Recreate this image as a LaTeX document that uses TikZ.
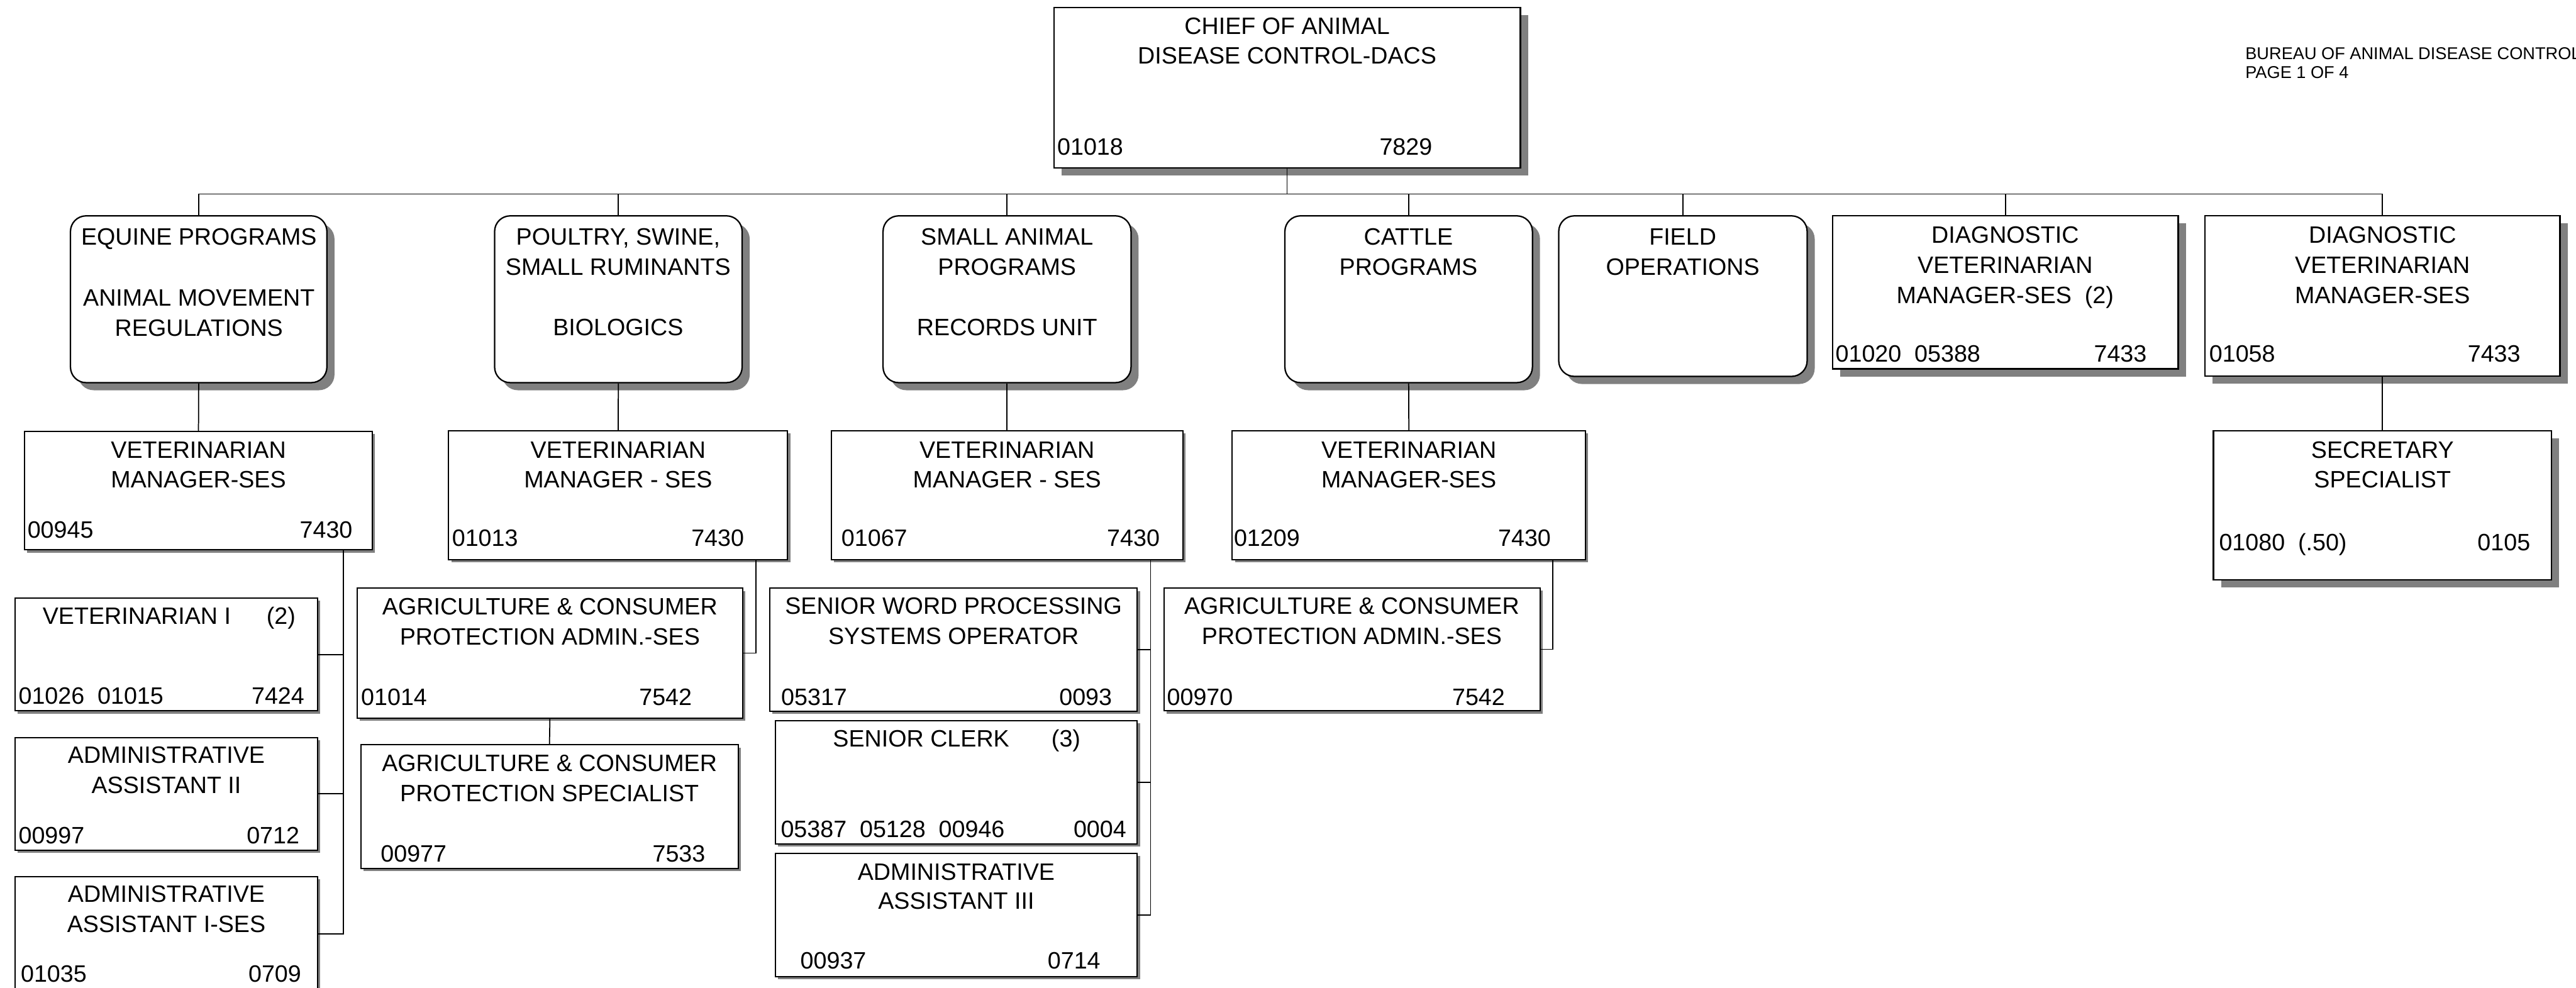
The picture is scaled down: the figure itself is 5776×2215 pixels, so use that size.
\documentclass[tikz,border=0pt]{standalone}
\usepackage{fontspec}
\setmainfont{Liberation Sans}
\usetikzlibrary{fit,shadows}
\begin{document}
\begin{tikzpicture}[x=0.01cm,y=-0.01cm,
  bigshadow/.style={drop shadow={shadow xshift=0.17cm,shadow yshift=-0.17cm,fill=black!50,opacity=1}},
  smallshadow/.style={drop shadow={shadow xshift=0.06cm,shadow yshift=-0.06cm,fill=black!50,opacity=1}},
  unitbox/.style={draw=black,line width=0.9pt,fill=white,rounded corners=0.35cm,inner sep=0pt,bigshadow},
  headbox/.style={draw=black,line width=0.9pt,fill=white,inner sep=0pt,bigshadow},
  posbox/.style={draw=black,line width=0.8pt,fill=white,inner sep=0pt,smallshadow},
  lbl/.style={font=\fontsize{15.1}{19}\selectfont,inner sep=0pt,anchor=base},
  lblw/.style={lbl,anchor=base west},
  lble/.style={lbl,anchor=base east},
  link/.style={draw=black,line width=0.7pt},
  note/.style={font=\fontsize{10.9}{12}\selectfont,inner sep=0pt,anchor=base west}
]
\fill[white] (0,0) rectangle (5776,2215);
\useasboundingbox (0,0) rectangle (5776,2215);

% ---------- title block ----------
\node[note] (bureau) at (5034,133) {BUREAU OF ANIMAL DISEASE CONTROL};
\node[note] (page) at (5034,175) {PAGE 1 OF 4};

% ---------- chief ----------
\node[headbox, fit={(2363,17) (3409,376)}] (chief) {};
\node[lbl]  (chief-a) at (2886,77)  {CHIEF OF ANIMAL};
\node[lbl]  (chief-b) at (2886,143) {DISEASE CONTROL-DACS};
\node[lblw] (chief-n) at (2370,348) {01018};
\node[lble] (chief-c) at (3212,348) {7829};

% ---------- programs row ----------
\node[unitbox, fit={(158,484) (733,858)}] (equine) {};
\node[lbl] (equine-a) at (446,549) {EQUINE PROGRAMS};
\node[lbl] (equine-b) at (446,686) {ANIMAL MOVEMENT};
\node[lbl] (equine-c) at (446,754) {REGULATIONS};

\node[unitbox, fit={(1109,484) (1664,858)}] (poultry) {};
\node[lbl] (poultry-a) at (1386,549) {POULTRY, SWINE,};
\node[lbl] (poultry-b) at (1386,617) {SMALL RUMINANTS};
\node[lbl] (poultry-c) at (1386,752) {BIOLOGICS};

\node[unitbox, fit={(1980,484) (2536,858)}] (smallan) {};
\node[lbl] (smallan-a) at (2258,549) {SMALL ANIMAL};
\node[lbl] (smallan-b) at (2258,617) {PROGRAMS};
\node[lbl] (smallan-c) at (2258,752) {RECORDS UNIT};

\node[unitbox, fit={(2881,484) (3436,858)}] (cattle) {};
\node[lbl] (cattle-a) at (3158,549) {CATTLE};
\node[lbl] (cattle-b) at (3158,617) {PROGRAMS};

\node[unitbox, fit={(3495,484) (4052,844)}] (field) {};
\node[lbl] (field-a) at (3773,549) {FIELD};
\node[lbl] (field-b) at (3773,617) {OPERATIONS};

\node[headbox, fit={(4109,484) (4884,827)}] (diaga) {};
\node[lbl]  (diaga-a) at (4496,545) {DIAGNOSTIC};
\node[lbl]  (diaga-b) at (4496,613) {VETERINARIAN};
\node[lbl]  (diaga-c) at (4496,680) {MANAGER-SES\ \ (2)};
\node[lblw] (diaga-n) at (4115,812) {01020\ \ 05388};
\node[lble] (diaga-k) at (4814,812) {7433};

\node[headbox, fit={(4944,484) (5740,843)}] (diagb) {};
\node[lbl]  (diagb-a) at (5342,545) {DIAGNOSTIC};
\node[lbl]  (diagb-b) at (5342,613) {VETERINARIAN};
\node[lbl]  (diagb-c) at (5342,680) {MANAGER-SES};
\node[lblw] (diagb-n) at (4953,812) {01058};
\node[lble] (diagb-k) at (5652,812) {7433};

% ---------- managers row ----------
\node[posbox, fit={(55,967) (835,1233)}] (vm1) {};
\node[lbl]  (vm1-a) at (445,1027) {VETERINARIAN};
\node[lbl]  (vm1-b) at (445,1094) {MANAGER-SES};
\node[lblw] (vm1-n) at (61,1207)  {00945};
\node[lble] (vm1-k) at (791,1207) {7430};

\node[posbox, fit={(1006,966) (1766,1255)}] (vm2) {};
\node[lbl]  (vm2-a) at (1386,1027) {VETERINARIAN};
\node[lbl]  (vm2-b) at (1386,1094) {MANAGER - SES};
\node[lblw] (vm2-n) at (1013,1225) {01013};
\node[lble] (vm2-k) at (1669,1225) {7430};

\node[posbox, fit={(1864,966) (2652,1255)}] (vm3) {};
\node[lbl]  (vm3-a) at (2258,1027) {VETERINARIAN};
\node[lbl]  (vm3-b) at (2258,1094) {MANAGER - SES};
\node[lblw] (vm3-n) at (1886,1225) {01067};
\node[lble] (vm3-k) at (2601,1225) {7430};

\node[posbox, fit={(2763,966) (3555,1255)}] (vm4) {};
\node[lbl]  (vm4-a) at (3159,1027) {VETERINARIAN};
\node[lbl]  (vm4-b) at (3159,1094) {MANAGER-SES};
\node[lblw] (vm4-n) at (2766,1225) {01209};
\node[lble] (vm4-k) at (3478,1225) {7430};

\node[headbox, fit={(4963,966) (5721,1300)}] (secr) {};
\node[lbl]  (secr-a) at (5342,1027) {SECRETARY};
\node[lbl]  (secr-b) at (5342,1093) {SPECIALIST};
\node[lblw] (secr-n) at (4975,1235) {01080\ \ (.50)};
\node[lble] (secr-k) at (5674,1235) {0105};

% ---------- equine staff ----------
\node[posbox, fit={(34,1341) (712,1594)}] (vet1) {};
\node[lblw] (vet1-a) at (95,1399)  {VETERINARIAN I};
\node[lblw] (vet1-q) at (597,1399) {(2)};
\node[lblw] (vet1-n) at (41,1578)  {01026\ \ 01015};
\node[lble] (vet1-k) at (683,1578) {7424};

\node[posbox, fit={(34,1654) (712,1906)}] (adm2) {};
\node[lbl]  (adm2-a) at (373,1711) {ADMINISTRATIVE};
\node[lbl]  (adm2-b) at (373,1779) {ASSISTANT II};
\node[lblw] (adm2-n) at (41,1891)  {00997};
\node[lble] (adm2-k) at (672,1891) {0712};

\node[posbox, fit={(34,1966) (712,2222)}] (adm1) {};
\node[lbl]  (adm1-a) at (373,2023) {ADMINISTRATIVE};
\node[lbl]  (adm1-b) at (373,2090) {ASSISTANT I-SES};
\node[lblw] (adm1-n) at (46,2202)  {01035};
\node[lble] (adm1-k) at (676,2202) {0709};

% ---------- poultry staff ----------
\node[posbox, fit={(801,1319) (1665,1610)}] (agra) {};
\node[lbl]  (agra-a) at (1233,1378) {AGRICULTURE \& CONSUMER};
\node[lbl]  (agra-b) at (1233,1446) {PROTECTION ADMIN.-SES};
\node[lblw] (agra-n) at (809,1582)  {01014};
\node[lble] (agra-k) at (1552,1582) {7542};

\node[posbox, fit={(809,1670) (1655,1947)}] (agrs) {};
\node[lbl]  (agrs-a) at (1232,1730) {AGRICULTURE \& CONSUMER};
\node[lbl]  (agrs-b) at (1232,1797) {PROTECTION SPECIALIST};
\node[lblw] (agrs-n) at (853,1933)  {00977};
\node[lble] (agrs-k) at (1582,1933) {7533};

% ---------- small animal staff ----------
\node[posbox, fit={(1726,1319) (2550,1595)}] (swp) {};
\node[lbl]  (swp-a) at (2138,1377) {SENIOR WORD PROCESSING};
\node[lbl]  (swp-b) at (2138,1445) {SYSTEMS OPERATOR};
\node[lblw] (swp-n) at (1751,1582) {05317};
\node[lble] (swp-k) at (2494,1582) {0093};

\node[posbox, fit={(1738,1616) (2550,1892)}] (clerk) {};
\node[lblw] (clerk-a) at (1867,1675) {SENIOR CLERK};
\node[lblw] (clerk-q) at (2357,1675) {(3)};
\node[lblw] (clerk-n) at (1750,1877) {05387\ \ 05128\ \ 00946};
\node[lble] (clerk-k) at (2526,1877) {0004};

\node[posbox, fit={(1738,1913) (2550,2190)}] (adm3) {};
\node[lbl]  (adm3-a) at (2144,1973) {ADMINISTRATIVE};
\node[lbl]  (adm3-b) at (2144,2039) {ASSISTANT III};
\node[lblw] (adm3-n) at (1794,2173) {00937};
\node[lble] (adm3-k) at (2468,2173) {0714};

% ---------- cattle staff ----------
\node[posbox, fit={(2610,1318) (3453,1594)}] (agr4) {};
\node[lbl]  (agr4-a) at (3031,1377) {AGRICULTURE \& CONSUMER};
\node[lbl]  (agr4-b) at (3031,1445) {PROTECTION ADMIN.-SES};
\node[lblw] (agr4-n) at (2616,1582) {00970};
\node[lble] (agr4-k) at (3375,1582) {7542};

% ---------- connectors ----------
\coordinate (bus) at (0,435);
\draw[link] (chief.south) -- (chief.south |- bus);
\draw[link] (equine.north |- bus) -- (diagb.north |- bus);
\foreach \u in {equine,poultry,smallan,cattle,field,diaga,diagb}
  \draw[link] (\u.north) -- (\u.north |- bus);

\draw[link] (equine.south)  -- (vm1.north);
\draw[link] (poultry.south) -- (vm2.north);
\draw[link] (smallan.south) -- (vm3.north);
\draw[link] (cattle.south)  -- (vm4.north);
\draw[link] (diagb.south)   -- (secr.north);

\coordinate (trunk1) at (770,0);
\draw[link] (trunk1 |- vm1.south) |- (adm1.east);
\draw[link] (vet1.east) -- (trunk1 |- vet1.east);
\draw[link] (adm2.east) -- (trunk1 |- adm2.east);

\coordinate (trunk2) at (1695,0);
\draw[link] (trunk2 |- vm2.south) |- (agra.east);
\draw[link] (agra.south) -- (agrs.north);

\coordinate (trunk3) at (2580,0);
\draw[link] (trunk3 |- vm3.south) |- (adm3.east);
\draw[link] (swp.east) -- (trunk3 |- swp.east);
\draw[link] (clerk.east) -- (trunk3 |- clerk.east);

\coordinate (trunk4) at (3482,0);
\draw[link] (trunk4 |- vm4.south) |- (agr4.east);
\end{tikzpicture}
\end{document}
